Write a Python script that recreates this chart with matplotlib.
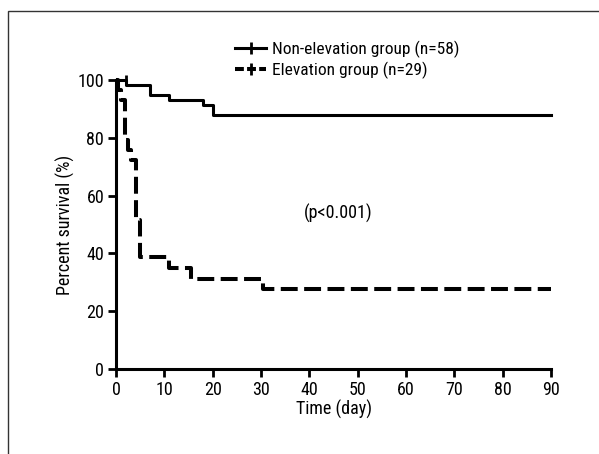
import matplotlib
matplotlib.use("Agg")
import matplotlib.pyplot as plt
from matplotlib.lines import Line2D
from matplotlib.patches import Rectangle

# Kaplan-Meier step values
non_elev_days = [0, 2, 7, 11, 18, 20, 90]
non_elev_surv = [100, 98.3, 94.8, 93.1, 91.4, 87.9, 87.9]
non_elev_censor_days = [2]
non_elev_censor_surv = [100]

elev_days = [0, 0.4, 1.0, 1.8, 2.4, 3.0, 4.2, 4.9, 11, 15.5, 30.5, 90]
elev_surv = [100, 96.6, 93.1, 79.3, 75.9, 72.4, 51.7, 38.6, 34.8, 31.0, 27.6, 27.6]

x_ticks = [0, 10, 20, 30, 40, 50, 60, 70, 80, 90]
y_ticks = [0, 20, 40, 60, 80, 100]

labels = ["Non-elevation group (n=58)", "Elevation group (n=29)"]

plt.rcParams["font.family"] = ["Roboto Condensed", "Barlow Condensed", "DejaVu Sans"]
plt.rcParams["font.size"] = 13

fig = plt.figure(figsize=(5.99, 4.54), dpi=100)
ax = fig.add_axes([116 / 599, 85 / 454, 435 / 599, 289 / 454])

# outer frame of the original figure panel
fig.patches.append(Rectangle((8 / 599, -0.1), 1.2, 1 - 11 / 454 + 0.1,
                             transform=fig.transFigure, fill=False,
                             lw=1, edgecolor="#333333"))

ax.step(non_elev_days, non_elev_surv, where="post", color="black",
        lw=2.2, clip_on=False)
ax.plot(non_elev_censor_days, non_elev_censor_surv, "|", color="black",
        ms=7, mew=2, clip_on=False)
ax.step(elev_days, elev_surv, where="post", color="black", lw=2.9,
        dashes=(4.2, 1.6), dash_capstyle="butt", clip_on=False)

ax.set_xlim(0, 90)
ax.set_ylim(0, 100)
ax.set_xticks(x_ticks)
ax.set_yticks(y_ticks)
for side in ("top", "right"):
    ax.spines[side].set_visible(False)
for side in ("left", "bottom"):
    ax.spines[side].set_linewidth(2.2)
ax.tick_params(length=5.5, width=2, pad=3, labelsize=13)

ax.set_xlabel("Time (day)", fontsize=13, labelpad=1)
ax.set_ylabel("Percent survival (%)", fontsize=13, labelpad=2)

ax.text(46, 54, "(p<0.001)", ha="center", va="center", fontsize=13)

handles = [
    Line2D([], [], color="black", lw=2.2, marker="|", ms=8, mew=2),
    Line2D([], [], color="black", lw=2.9, dashes=(2.2, 0.8), marker="|",
           ms=8, mew=2),
]
fig.legend(handles, labels, loc="upper left",
           bbox_to_anchor=(235 / 599, 1 - 41 / 454), frameon=False,
           borderpad=0, borderaxespad=0, handlelength=1.8,
           handletextpad=0.35, labelspacing=0.2, numpoints=1, fontsize=12.5)

fig.savefig("out.png", dpi=100)
